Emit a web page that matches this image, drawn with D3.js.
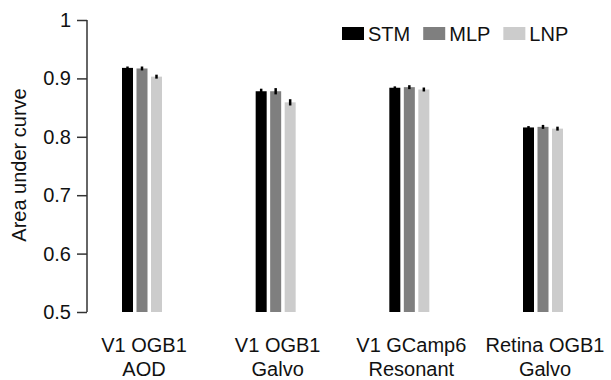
<!DOCTYPE html>
<html>
<head>
<meta charset="utf-8">
<script src="https://cdn.jsdelivr.net/npm/d3@7"></script>
<style>
  html, body { margin: 0; padding: 0; background: #fff; }
  svg { display: block; font-family: "Liberation Sans", Arial, sans-serif; }
</style>
</head>
<body>
<svg id="chart" width="611" height="380"></svg>
<script>
const categories = [["V1 OGB1", "AOD"], ["V1 OGB1", "Galvo"], ["V1 GCamp6", "Resonant"], ["Retina OGB1", "Galvo"]];
const seriesNames = ["STM", "MLP", "LNP"];
const seriesColors = ["#000000", "#7f7f7f", "#cccccc"];
const stmValues = [0.918, 0.878, 0.884, 0.816];
const mlpValues = [0.917, 0.878, 0.885, 0.817];
const lnpValues = [0.903, 0.859, 0.881, 0.814];
const stmErr = [0.001, 0.003, 0.001, 0.001];
const mlpErr = [0.002, 0.004, 0.002, 0.002];
const lnpErr = [0.002, 0.004, 0.002, 0.002];
const yTicks = [0.5, 0.6, 0.7, 0.8, 0.9, 1];
const yLabel = "Area under curve";

const values = [stmValues, mlpValues, lnpValues];
const errs = [stmErr, mlpErr, lnpErr];
const catKeys = categories.map(c => c.join(" "));

const svg = d3.select("#chart");
const fontSize = 20;

const y = d3.scaleLinear().domain([0.5, 1]).range([312, 20]);
const x0 = d3.scalePoint().domain(catKeys).range([142, 543]);
const x1 = d3.scaleBand().domain(seriesNames).range([-20, 20]).paddingInner(0.241).paddingOuter(0);

// y axis
const yAxis = d3.axisLeft(y).tickValues(yTicks).tickSize(10).tickPadding(6)
  .tickFormat(d => d === 1 ? "1" : d3.format(".1f")(d));
const gy = svg.append("g").attr("transform", "translate(87,0)").call(yAxis);
gy.select(".domain").attr("stroke", "#333").attr("stroke-width", 1.5).attr("d", `M0,${y(1)}V${y(0.5)}`);
gy.selectAll(".tick line").attr("stroke", "#333").attr("stroke-width", 1.5);
gy.selectAll(".tick text").attr("font-size", fontSize).attr("fill", "#111").attr("font-family", "Liberation Sans, Arial, sans-serif");

// y label
svg.append("text")
  .attr("transform", `translate(26,165) rotate(-90)`)
  .attr("text-anchor", "middle")
  .attr("font-size", fontSize)
  .attr("fill", "#111")
  .text(yLabel);

// bars
const rows = [];
catKeys.forEach((k, i) => {
  seriesNames.forEach((s, j) => {
    rows.push({ cat: k, series: s, value: values[j][i], err: errs[j][i], color: seriesColors[j] });
  });
});

const g = svg.append("g");
g.selectAll("rect.bar").data(rows).enter().append("rect")
  .attr("class", "bar")
  .attr("x", d => x0(d.cat) + x1(d.series))
  .attr("width", x1.bandwidth())
  .attr("y", d => y(d.value))
  .attr("height", d => y(0.5) - y(d.value))
  .attr("fill", d => d.color);

// error bars
const eg = g.selectAll("g.err").data(rows).enter().append("g").attr("class", "err");
eg.append("line")
  .attr("x1", d => x0(d.cat) + x1(d.series) + x1.bandwidth() / 2)
  .attr("x2", d => x0(d.cat) + x1(d.series) + x1.bandwidth() / 2)
  .attr("y1", d => y(d.value - d.err) + 0.8)
  .attr("y2", d => y(d.value + d.err) - 0.8)
  .attr("stroke", "#000").attr("stroke-width", 2.5);

// x labels
categories.forEach((c, i) => {
  const t = svg.append("text")
    .attr("text-anchor", "middle")
    .attr("font-size", fontSize)
    .attr("fill", "#111");
  c.forEach((line, li) => {
    t.append("tspan").attr("x", x0(catKeys[i]) + 2).attr("y", 352 + li * 24).text(line);
  });
});

// legend
const legend = svg.append("g");
let lx = 342;
seriesNames.forEach((s, j) => {
  legend.append("rect").attr("x", lx).attr("y", 27).attr("width", 22).attr("height", 13).attr("fill", seriesColors[j]);
  const t = legend.append("text").attr("x", lx + 26).attr("y", 41).attr("font-size", fontSize).attr("fill", "#111").text(s);
  lx += 26 + t.node().getComputedTextLength() + 13;
});
</script>
</body>
</html>
